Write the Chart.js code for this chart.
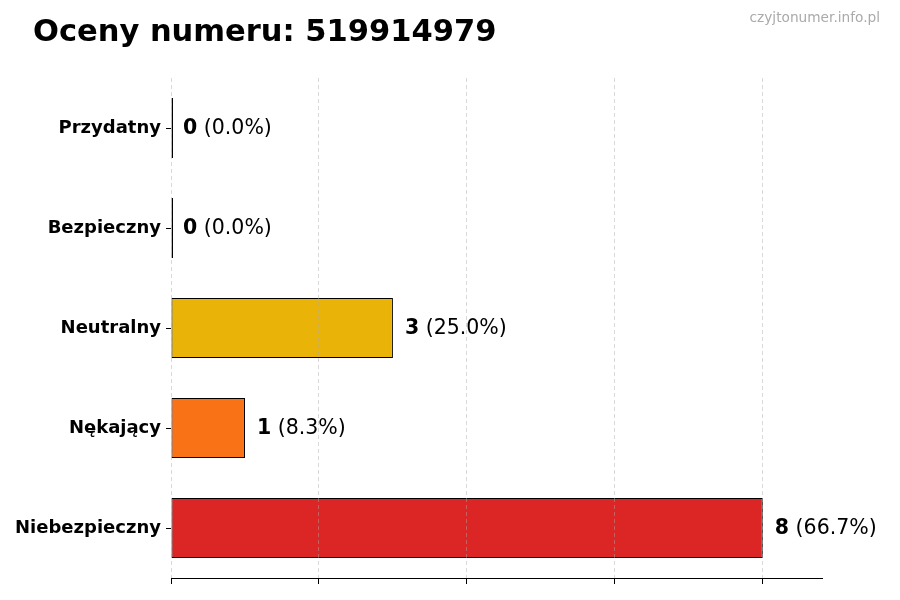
<!DOCTYPE html>
<html>
<head>
<meta charset="utf-8">
<script src="https://cdn.jsdelivr.net/npm/chart.js@4"></script>
<style>
  body { margin: 0; background: #fff; }
</style>
</head>
<body>
<canvas id="chart" width="900" height="600"></canvas>
<script>
const labels = ["Przydatny", "Bezpieczny", "Neutralny", "Nękający", "Niebezpieczny"];
const counts = [0, 0, 3, 1, 8];
const barColors = ["#22c55e", "#16a34a", "#eab308", "#f97316", "#dc2626"];
const gridTicks = [0, 2, 4, 6, 8];
const titleText = "Oceny numeru: 519914979";
const siteText = "czyjtonumer.info.pl";

const total = counts.reduce((a, b) => a + b, 0);
const FONT = "'DejaVu Sans', sans-serif";

// title and site name at the top
const headerPlugin = {
    id: 'header',
    afterDraw(chart) {
        const c = chart.ctx;
        c.save();
        c.fillStyle = '#000';
        c.font = "bold 30.5px " + FONT;
        c.textAlign = 'left';
        c.textBaseline = 'alphabetic';
        c.fillText(titleText, 33, 41);
        c.fillStyle = '#aaaaaa';
        c.font = "13.7px " + FONT;
        c.textAlign = 'right';
        c.fillText(siteText, 880, 22);
        c.restore();
    }
};

// "8 (66.7%)" next to each bar
const valueLabels = {
    id: 'valueLabels',
    afterDatasetsDraw(chart) {
        const c = chart.ctx;
        const meta = chart.getDatasetMeta(0);
        const xs = chart.scales.x;
        c.save();
        c.textBaseline = 'middle';
        c.textAlign = 'left';
        c.fillStyle = '#000';
        meta.data.forEach((bar, i) => {
            const pct = total ? (counts[i] / total * 100).toFixed(1) : "0.0";
            let x = xs.getPixelForValue(counts[i]) + 12;
            c.font = "bold 20.5px " + FONT;
            const num = String(counts[i]);
            c.fillText(num, x, bar.y + 1);
            x += c.measureText(num).width;
            c.font = "20.5px " + FONT;
            c.fillText(" (" + pct + "%)", x, bar.y + 1);
        });
        c.restore();
    }
};

new Chart(document.getElementById('chart'), {
    type: 'bar',
    data: {
        labels: labels,
        datasets: [{
            data: counts,
            backgroundColor: barColors,
            borderColor: '#000',
            borderWidth: 1,
            borderSkipped: false,
            minBarLength: 2,
            barPercentage: 0.6,
            categoryPercentage: 1.0
        }]
    },
    options: {
        indexAxis: 'y',
        responsive: false,
        animation: false,
        devicePixelRatio: 1,
        layout: { padding: { left: 0, right: 78, top: 78, bottom: 16 } },
        plugins: {
            legend: { display: false },
            tooltip: { enabled: false }
        },
        scales: {
            x: {
                min: 0,
                max: 8.8,
                ticks: { display: false, stepSize: 2 },
                afterBuildTicks: (s) => {
                    s.ticks = s.ticks.filter(t => gridTicks.includes(t.value));
                },
                afterFit: (s) => { s.height = 6; },
                grid: {
                    color: 'rgba(170,170,170,0.45)',
                    tickColor: '#000',
                    tickLength: 6,
                    tickWidth: 1,
                    z: 1
                },
                border: { display: true, color: '#000', width: 1, dash: [4, 3], z: 1 }
            },
            y: {
                afterFit: (s) => { s.width = 171; },
                ticks: {
                    color: '#000',
                    padding: 5,
                    font: { family: FONT, size: 18, weight: 'bold' }
                },
                grid: {
                    offset: false,
                    drawOnChartArea: false,
                    tickLength: 5,
                    tickColor: '#000',
                    color: '#000'
                },
                border: { display: false }
            }
        }
    },
    plugins: [headerPlugin, valueLabels]
});
</script>
</body>
</html>
